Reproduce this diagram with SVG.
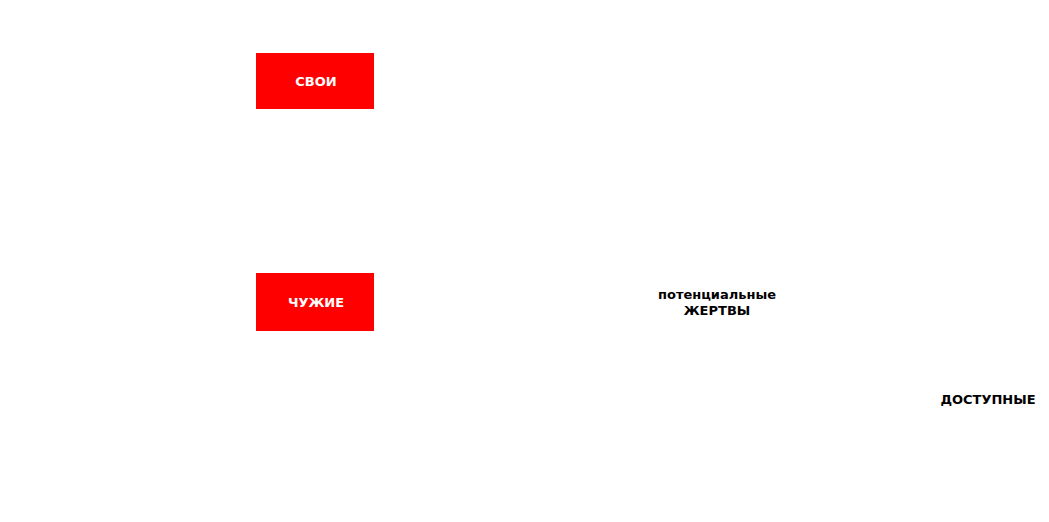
<svg xmlns="http://www.w3.org/2000/svg" width="1049" height="522" viewBox="0 0 1049 522">
<style>
.box{fill:#ff0000}
.t{font-family:"DejaVu Sans",sans-serif;font-weight:bold;font-size:13px;text-anchor:middle}
.w{fill:#ffffff}
.k{fill:#000000}
</style>
<rect width="1049" height="522" fill="#ffffff"/>
<g id="connectors"></g>
<g id="svoi"><rect class="box" x="256" y="53" width="118" height="56"/><text class="t w" x="316" y="86">СВОИ</text></g>
<g id="chuzhie"><rect class="box" x="256" y="273" width="118" height="58"/><text class="t w" x="316" y="307">ЧУЖИЕ</text></g>
<g id="zhertvy"><text class="t k" x="717" y="299">потенциальные</text><text class="t k" x="717" y="315">ЖЕРТВЫ</text></g>
<g id="dostupnye"><text class="t k" x="988" y="404">ДОСТУПНЫЕ</text></g>
</svg>
